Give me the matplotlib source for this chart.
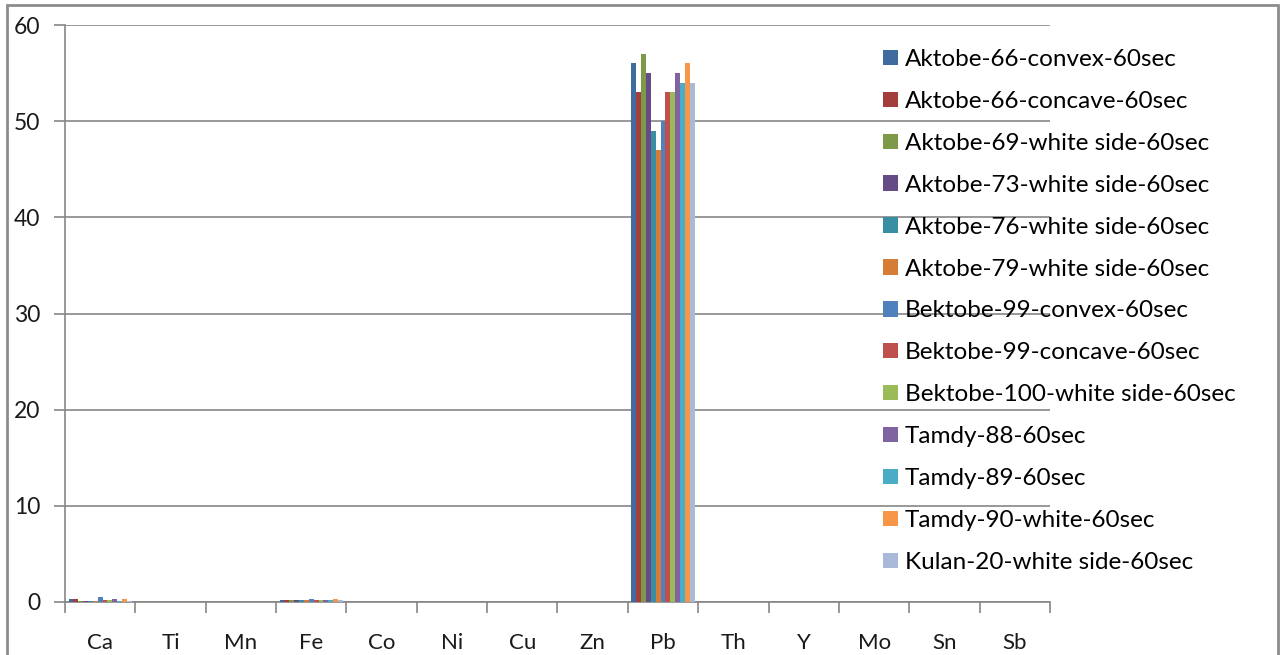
import numpy as np
import matplotlib
matplotlib.use("Agg")
import matplotlib.pyplot as plt
from matplotlib.patches import Patch, Rectangle

elements = ["Ca", "Ti", "Mn", "Fe", "Co", "Ni", "Cu", "Zn", "Pb", "Th", "Y", "Mo", "Sn", "Sb"]

series_names = [
    "Aktobe-66-convex-60sec",
    "Aktobe-66-concave-60sec",
    "Aktobe-69-white side-60sec",
    "Aktobe-73-white side-60sec",
    "Aktobe-76-white side-60sec",
    "Aktobe-79-white side-60sec",
    "Bektobe-99-convex-60sec",
    "Bektobe-99-concave-60sec",
    "Bektobe-100-white side-60sec",
    "Tamdy-88-60sec",
    "Tamdy-89-60sec",
    "Tamdy-90-white-60sec",
    "Kulan-20-white side-60sec",
]

# Concentrations per sample, in element order
ca = [0.35, 0.35, 0.15, 0.15, 0.15, 0.15, 0.5, 0.2, 0.2, 0.35, 0.15, 0.35, 0.15]
fe = [0.2, 0.2, 0.2, 0.2, 0.2, 0.2, 0.35, 0.2, 0.2, 0.2, 0.2, 0.35, 0.2]
pb = [56, 53, 57, 55, 49, 47, 50, 53, 53, 55, 54, 56, 54]

colors = ["#3F6B9F", "#A23F3D", "#7E9A48", "#664C86", "#3A8EA4", "#D57D37",
          "#4F81BD", "#C0504D", "#9BBB59", "#8064A2", "#4BACC6", "#F79646",
          "#A9B9DA"]

values = np.zeros((len(series_names), len(elements)))
values[:, elements.index("Ca")] = ca
values[:, elements.index("Fe")] = fe
values[:, elements.index("Pb")] = pb

plt.rcParams["font.family"] = ["Lato", "DejaVu Sans"]

fig = plt.figure(figsize=(12.82, 6.55), dpi=100)
ax = fig.add_axes([65 / 1282, 53 / 655, (1050 - 65) / 1282, (602 - 25) / 655])

n = len(series_names)
group = 0.9
bw = group / n
x = np.arange(len(elements))
for i in range(n):
    offs = -group / 2 + bw * (i + 0.5)
    ax.bar(x + offs, values[i], width=bw, color=colors[i], zorder=3,
           label=series_names[i])

ax.set_xlim(-0.5, len(elements) - 0.5)
ax.set_ylim(0, 60)
ax.set_yticks(np.arange(0, 61, 10))
ax.yaxis.grid(True, color="#868686", lw=1.2, zorder=0)
for s in ["top", "right"]:
    ax.spines[s].set_visible(False)
for s in ["left", "bottom"]:
    ax.spines[s].set_color("#868686")
    ax.spines[s].set_linewidth(1.2)

ax.set_xticks(x)
ax.set_xticklabels(elements)
ax.set_xticks(np.arange(-0.5, len(elements), 1.0), minor=True)
ax.tick_params(axis="x", which="major", length=0, pad=22, labelsize=16, labelcolor="#1a1a1a")
ax.tick_params(axis="x", which="minor", length=8, width=1.2, color="#868686", direction="out")
ax.tick_params(axis="y", length=8, width=1.2, color="#868686", pad=10, labelsize=16.5, labelcolor="#1a1a1a")

handles = [Patch(facecolor=c, edgecolor="none") for c in colors]
fig.legend(handles, series_names, loc="upper left",
           bbox_to_anchor=(883 / 1282, 1 - 49 / 655), frameon=False,
           fontsize=17.5, handlelength=0.6, handleheight=0.6, handletextpad=0.3,
           labelspacing=0.86, borderaxespad=0, borderpad=0)

fig.add_artist(Rectangle((7 / 1282, -0.05), (1278 - 7) / 1282, 1.05 - 5 / 655,
                         transform=fig.transFigure, fill=False,
                         edgecolor="#8C8C8C", lw=2, clip_on=False))

fig.savefig("out.png", dpi=100)
